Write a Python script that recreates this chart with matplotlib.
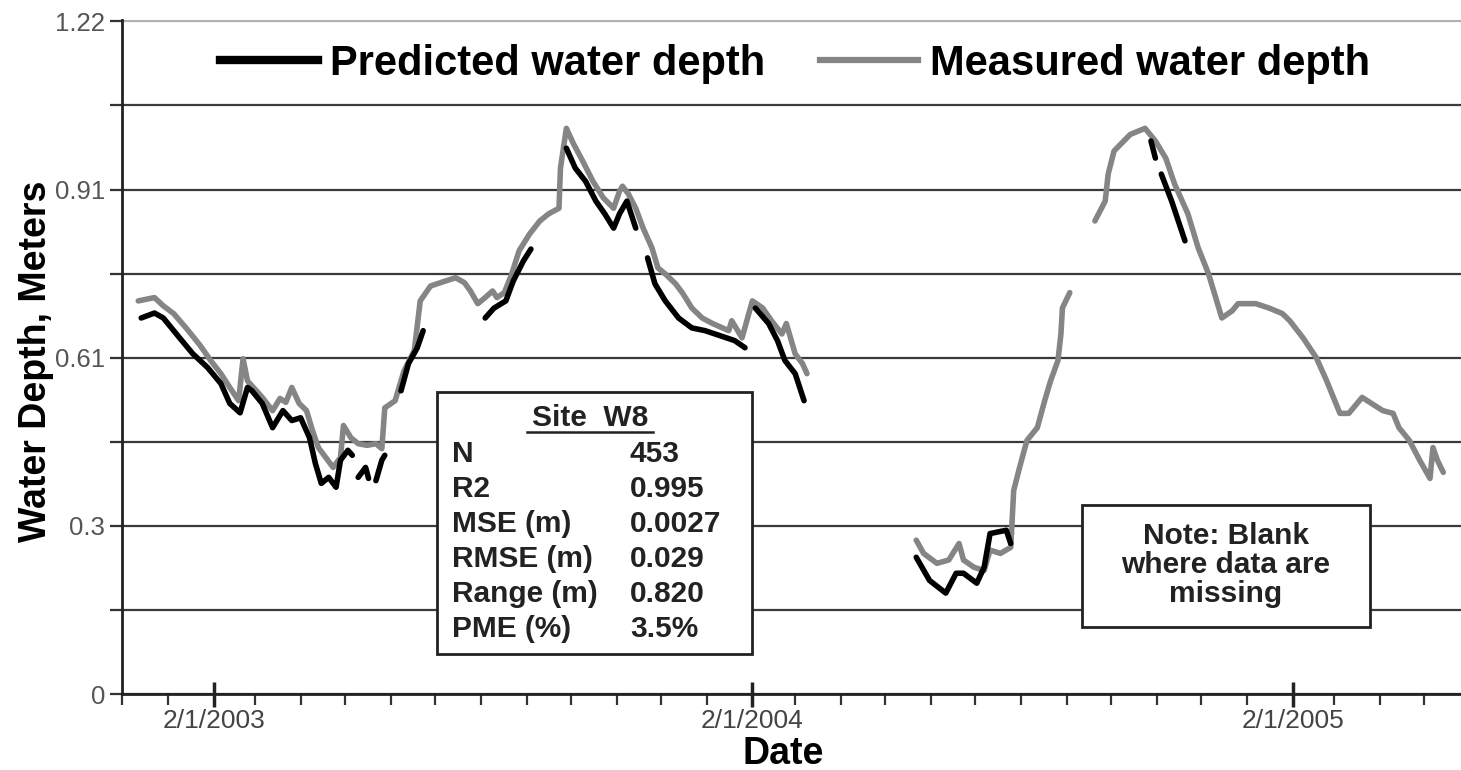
import numpy as np
import pandas as pd
import matplotlib
matplotlib.use("Agg")
import matplotlib.pyplot as plt
import matplotlib.dates as mdates
from matplotlib.lines import Line2D
from matplotlib.patches import Rectangle

plt.rcParams['font.family'] = ['Liberation Sans', 'DejaVu Sans']

nan = np.nan

# measured water depth (m), NaN = missing data
meas_dates = [
    "2002-12-12", "2002-12-23", "2002-12-29", "2003-01-05", "2003-01-14", "2003-01-23",
    "2003-01-30", "2003-02-06", "2003-02-12", "2003-02-18", "2003-02-21", "2003-02-24",
    "2003-02-27", "2003-03-06", "2003-03-13", "2003-03-18", "2003-03-22", "2003-03-26",
    "2003-03-31", "2003-04-05", "2003-04-09", "2003-04-13", "2003-04-18", "2003-04-23",
    "2003-04-28", "2003-04-30", "2003-05-05", "2003-05-10", "2003-05-16", "2003-05-22",
    "2003-05-26", "2003-05-28", "2003-06-04", "2003-06-10", "2003-06-17", "2003-06-21",
    "2003-06-28", "2003-07-08", "2003-07-15", "2003-07-21", "2003-07-25", "2003-07-30",
    "2003-08-04", "2003-08-09", "2003-08-12", "2003-08-17", "2003-08-22", "2003-08-27",
    "2003-09-03", "2003-09-10", "2003-09-16", "2003-09-23", "2003-09-24", "2003-09-28",
    "2003-10-03", "2003-10-09", "2003-10-16", "2003-10-23", "2003-10-30", "2003-11-03",
    "2003-11-05", "2003-11-09", "2003-11-14", "2003-11-19", "2003-11-25", "2003-11-29",
    "2003-12-04", "2003-12-11", "2003-12-16", "2003-12-22", "2003-12-29", "2004-01-05",
    "2004-01-16", "2004-01-18", "2004-01-25", "2004-02-01", "2004-02-08", "2004-02-14",
    "2004-02-21", "2004-02-24", "2004-03-01", "2004-03-06", "2004-03-09",
    "2004-04-15",
    "2004-05-22", "2004-05-27", "2004-06-05", "2004-06-13", "2004-06-20", "2004-06-23",
    "2004-06-30", "2004-07-07", "2004-07-11", "2004-07-18", "2004-07-25", "2004-07-27",
    "2004-07-31", "2004-08-05", "2004-08-12", "2004-08-17", "2004-08-21", "2004-08-26",
    "2004-08-28", "2004-08-29", "2004-09-03",
    "2004-09-12",
    "2004-09-20", "2004-09-27", "2004-09-29", "2004-10-03", "2004-10-14", "2004-10-24",
    "2004-10-31", "2004-11-07", "2004-11-13", "2004-11-22", "2004-11-29", "2004-12-06",
    "2004-12-15", "2004-12-22", "2004-12-26", "2005-01-07", "2005-01-16", "2005-01-25",
    "2005-01-30", "2005-02-08", "2005-02-17", "2005-02-24", "2005-03-05", "2005-03-11",
    "2005-03-20", "2005-04-03", "2005-04-10", "2005-04-14", "2005-04-21", "2005-04-28",
    "2005-05-05", "2005-05-07", "2005-05-10", "2005-05-14"]
meas_vals = [
    0.713, 0.719, 0.704, 0.690, 0.662, 0.632, 0.605, 0.581, 0.556, 0.532, 0.608, 0.568,
    0.559, 0.538, 0.514, 0.536, 0.529, 0.556, 0.527, 0.514, 0.478, 0.447, 0.429, 0.411,
    0.429, 0.487, 0.465, 0.454, 0.451, 0.454, 0.445, 0.519, 0.532, 0.586, 0.623, 0.713,
    0.740, 0.749, 0.755, 0.746, 0.731, 0.708, 0.719, 0.731, 0.719, 0.728, 0.762, 0.804,
    0.834, 0.858, 0.871, 0.881, 0.954, 1.026, 0.997, 0.967, 0.930, 0.900, 0.881, 0.912,
    0.921, 0.907, 0.881, 0.845, 0.809, 0.773, 0.762, 0.744, 0.726, 0.700, 0.682, 0.672,
    0.659, 0.677, 0.646, 0.713, 0.700, 0.677, 0.653, 0.672, 0.617, 0.599, 0.581,
    nan,
    0.279, 0.255, 0.237, 0.243, 0.273, 0.243, 0.230, 0.224, 0.261, 0.255, 0.266, 0.369,
    0.411, 0.460, 0.483, 0.532, 0.568, 0.605, 0.653, 0.700, 0.728,
    nan,
    0.858, 0.894, 0.943, 0.985, 1.015, 1.026, 1.003, 0.972, 0.925, 0.871, 0.809, 0.762,
    0.682, 0.695, 0.708, 0.708, 0.700, 0.690, 0.677, 0.646, 0.610, 0.568, 0.509, 0.509,
    0.538, 0.514, 0.509, 0.483, 0.460, 0.424, 0.391, 0.447, 0.424, 0.402]

# predicted water depth (m)
pred_dates = [
    "2002-12-14", "2002-12-23", "2002-12-29", "2003-01-09", "2003-01-18", "2003-01-28",
    "2003-02-06", "2003-02-12", "2003-02-19", "2003-02-24", "2003-02-27", "2003-03-06",
    "2003-03-13", "2003-03-20", "2003-03-26", "2003-04-01", "2003-04-07", "2003-04-11",
    "2003-04-15", "2003-04-20", "2003-04-25", "2003-04-28", "2003-05-03", "2003-05-06",
    "2003-05-08",
    "2003-05-10", "2003-05-15", "2003-05-17",
    "2003-05-20",
    "2003-05-22", "2003-05-26", "2003-05-28",
    "2003-06-03",
    "2003-06-08", "2003-06-13", "2003-06-19", "2003-06-23",
    "2003-07-15",
    "2003-08-04", "2003-08-10", "2003-08-18", "2003-08-23", "2003-08-30", "2003-09-04",
    "2003-09-15",
    "2003-09-28", "2003-10-04", "2003-10-11", "2003-10-18", "2003-10-24", "2003-10-30",
    "2003-11-03", "2003-11-08", "2003-11-14",
    "2003-11-18",
    "2003-11-22", "2003-11-27", "2003-12-04", "2003-12-13", "2003-12-22", "2003-12-31",
    "2004-01-10", "2004-01-20", "2004-01-27",
    "2004-01-30",
    "2004-02-03", "2004-02-12", "2004-02-18", "2004-02-23", "2004-03-01", "2004-03-07",
    "2004-04-15",
    "2004-05-22", "2004-05-31", "2004-06-11", "2004-06-18", "2004-06-23", "2004-07-02",
    "2004-07-07", "2004-07-11", "2004-07-22", "2004-07-25",
    "2004-09-15",
    "2004-10-28", "2004-10-31",
    "2004-11-02",
    "2004-11-04", "2004-11-11", "2004-11-20"]
pred_vals = [
    0.682, 0.691, 0.682, 0.646, 0.617, 0.592, 0.563, 0.527, 0.510, 0.556, 0.550, 0.527,
    0.483, 0.514, 0.496, 0.501, 0.465, 0.418, 0.382, 0.393, 0.375, 0.424, 0.442, 0.433,
    nan,
    0.393, 0.411, 0.391,
    nan,
    0.387, 0.424, 0.433,
    nan,
    0.550, 0.599, 0.628, 0.659,
    nan,
    0.682, 0.700, 0.713, 0.749, 0.786, 0.807,
    nan,
    0.990, 0.954, 0.930, 0.894, 0.871, 0.845, 0.871, 0.894, 0.845,
    nan,
    0.791, 0.744, 0.713, 0.682, 0.664, 0.659, 0.650, 0.641, 0.628,
    nan,
    0.700, 0.672, 0.641, 0.605, 0.581, 0.532,
    nan,
    0.248, 0.206, 0.183, 0.219, 0.219, 0.201, 0.230, 0.291, 0.297, 0.273,
    nan,
    1.003, 0.972,
    nan,
    0.943, 0.894, 0.822]

stat_labels = ["N", "R2", "MSE (m)", "RMSE (m)", "Range (m)", "PME (%)"]
stat_values = ["453", "0.995", "0.0027", "0.029", "0.820", "3.5%"]

ytick_vals = np.arange(9) * 0.1525
ytick_labels = ["0", "", "0.3", "", "0.61", "", "0.91", "", "1.22"]
xtick_dates = ["2003-02-01", "2004-02-01", "2005-02-01"]
xtick_labels = ["2/1/2003", "2/1/2004", "2/1/2005"]

W, H = 1461, 770
fig = plt.figure(figsize=(W / 100, H / 100), dpi=100)
ax = fig.add_axes([122 / W, 76 / H, 1 - 122 / W, 674 / H])

md = pd.to_datetime(meas_dates)
pdt = pd.to_datetime(pred_dates)
ax.plot(md, meas_vals, color="#858585", lw=4.0, zorder=3, solid_capstyle="round")
ax.plot(pdt, pred_vals, color="black", lw=4.0, zorder=4, solid_capstyle="round")

ax.set_xlim(pd.Timestamp("2002-12-01"), pd.Timestamp("2005-05-26"))
ax.set_ylim(0, 1.2225)

ax.set_yticks(ytick_vals)
ax.set_yticklabels(ytick_labels)
ax.yaxis.grid(True, color="#3a3a3a", lw=1.6)
ax.get_ygridlines()[-1].set_color("#b0b0b0")
ax.tick_params(axis="y", direction="out", length=9, width=1.6, color="#333333",
               labelcolor="#555555", labelsize=18.5, pad=3)

ax.set_xticks(pd.to_datetime(xtick_dates))
ax.set_xticklabels(xtick_labels)
ax.xaxis.set_minor_locator(mdates.MonthLocator(bymonthday=1))
ax.tick_params(axis="x", which="major", direction="inout", length=18, width=2.5,
               color="#222222", labelcolor="#444444", labelsize=19, pad=2)
ax.tick_params(axis="x", which="minor", direction="out", length=8, width=1.6,
               color="#333333")

for s in ["top", "right"]:
    ax.spines[s].set_visible(False)
for s in ["left", "bottom"]:
    ax.spines[s].set_color("#222222")
    ax.spines[s].set_linewidth(2)

ax.set_ylabel("Water Depth, Meters", fontsize=27, fontweight="bold")
ax.yaxis.set_label_coords(-0.051, 0.493)
ax.set_xlabel("Date", fontsize=27, fontweight="bold")
ax.xaxis.set_label_coords(0.4937, -0.062)

handles = [Line2D([], [], color="black", lw=6),
           Line2D([], [], color="#858585", lw=4.5)]
fig.legend(handles, ["Predicted water depth", "Measured water depth"],
           loc="center left", bbox_to_anchor=(220 / W, 1 - 64 / H), ncol=2,
           frameon=False, prop={"size": 30, "weight": "bold"}, borderpad=0,
           borderaxespad=0, handlelength=2.35, handletextpad=0.3, columnspacing=1.3)

# stats box
fig.patches.append(Rectangle((437 / W, 1 - 654 / H), 315 / W, 262 / H,
                             transform=fig.transFigure, facecolor="white",
                             edgecolor="#222222", lw=2, zorder=5))
fig.text(590 / W, 1 - 418 / H, "Site  W8", ha="center", va="center",
         fontsize=21.5, fontweight="bold", color="#222222", zorder=6)
fig.lines.append(Line2D([527 / W, 653 / W], [1 - 432 / H, 1 - 432 / H],
                        transform=fig.transFigure, color="#222222", lw=1.8, zorder=6))
for i, (lab, val) in enumerate(zip(stat_labels, stat_values)):
    y = 1 - (454 + 35 * i) / H
    fig.text(452 / W, y, lab, ha="left", va="center", fontsize=21.5,
             fontweight="bold", color="#222222", zorder=6)
    fig.text(630 / W, y, val, ha="left", va="center", fontsize=21.5,
             fontweight="bold", color="#222222", zorder=6)

# note box
fig.patches.append(Rectangle((1082 / W, 1 - 627 / H), 288 / W, 122 / H,
                             transform=fig.transFigure, facecolor="white",
                             edgecolor="#222222", lw=2, zorder=5))
fig.text(1226 / W, 1 - 565 / H, "Note: Blank\nwhere data are\nmissing",
         ha="center", va="center", fontsize=21.5, fontweight="bold",
         color="#222222", linespacing=1.05, zorder=6)

fig.savefig("out.png", dpi=100)
